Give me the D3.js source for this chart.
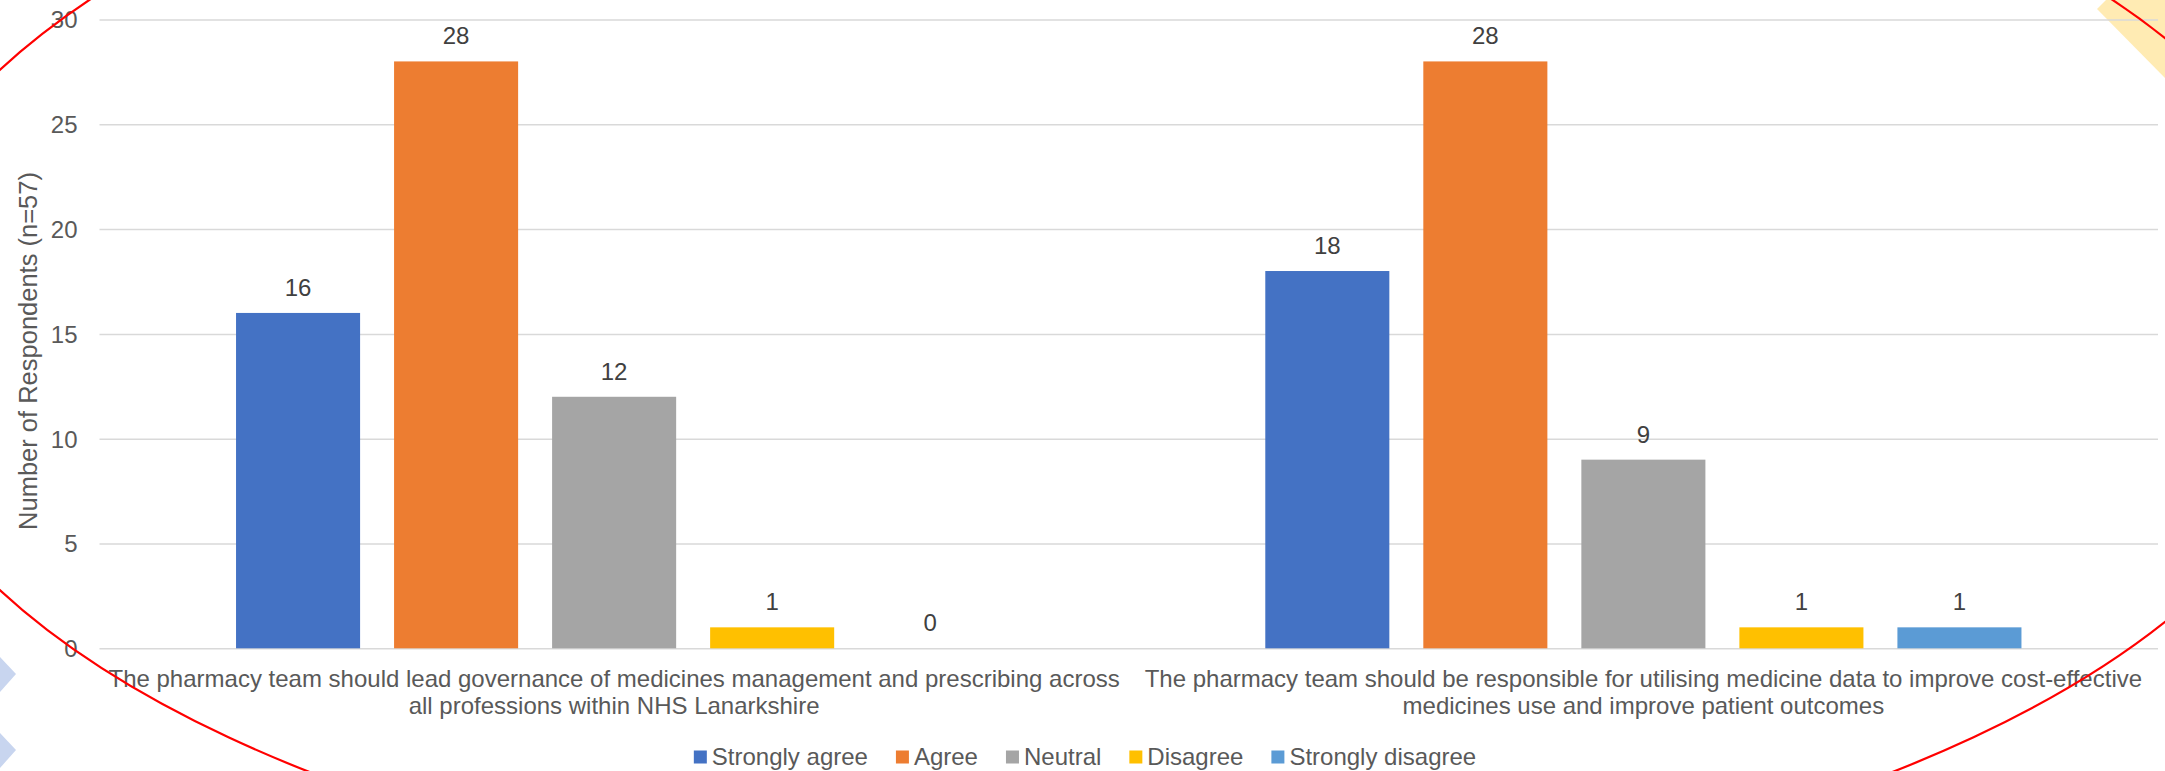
<!DOCTYPE html>
<html>
<head>
<meta charset="utf-8">
<script src="https://cdn.jsdelivr.net/npm/d3@7"></script>
<style>
  html, body { margin: 0; padding: 0; background: #fff; }
  svg { display: block; font-family: "Liberation Sans", Arial, sans-serif; }
</style>
</head>
<body>
<svg id="chart" width="2165" height="771"></svg>
<script>
// Survey statements (each split into its two printed lines)
const statements = [
  ["The pharmacy team should lead governance of medicines management and prescribing across",
   "all professions within NHS Lanarkshire"],
  ["The pharmacy team should be responsible for utilising medicine data to improve cost-effective",
   "medicines use and improve patient outcomes"]
];
const responses = ["Strongly agree", "Agree", "Neutral", "Disagree", "Strongly disagree"];
const colours = ["#4472C4", "#ED7D31", "#A5A5A5", "#FFC000", "#5B9BD5"];

// Respondent counts per statement, in response order
const governanceCounts = [16, 28, 12, 1, 0];
const medicineDataCounts = [18, 28, 9, 1, 1];

const yTicks = [0, 5, 10, 15, 20, 25, 30];
const yTitle = "Number of Respondents (n=57)";

const counts = [governanceCounts, medicineDataCounts];
const svg = d3.select("#chart");
const plot = { left: 99.5, right: 2158, top: 19.5, bottom: 648.3 };
const textCol = "#595959";

// Background decorations
svg.append("polygon")
  .attr("points", [[2106, 0], [2097, 9], [2165, 78], [2165, 0]].map(p => p.join(",")).join(" "))
  .attr("fill", "#FFEBB3");
[[657, 674, 692], [733, 750, 768]].forEach(([t, m, b]) => {
  svg.append("polygon")
    .attr("points", `0,${t} 16,${m} 0,${b}`)
    .attr("fill", "#C8D5EF");
});

const x0 = d3.scaleBand().domain(d3.range(statements.length)).range([plot.left, plot.right]).padding(0);
const x1 = d3.scaleBand().domain(responses).range([0, x0.bandwidth()])
  .paddingInner(0.215).paddingOuter(0.864);
const y = d3.scaleLinear().domain([0, 30]).range([plot.bottom, plot.top]);

// Gridlines + y tick labels
const yAxis = d3.axisLeft(y).tickValues(yTicks).tickSize(-(plot.right - plot.left)).tickPadding(22);
const gy = svg.append("g").attr("transform", `translate(${plot.left},0)`).call(yAxis);
gy.select(".domain").remove();
gy.selectAll(".tick line").attr("stroke", "#D9D9D9").attr("stroke-width", 1.5);
gy.selectAll(".tick text")
  .attr("fill", textCol).attr("font-size", 24)
  .attr("font-family", "'Liberation Sans', Arial, sans-serif")
  .attr("dy", "0.35em");

// Bars
const groups = svg.append("g").selectAll("g")
  .data(counts).join("g")
  .attr("transform", (d, i) => `translate(${x0(i)},0)`);

groups.selectAll("rect")
  .data(d => d.map((v, j) => ({ v, r: responses[j], c: colours[j] })))
  .join("rect")
  .attr("x", d => x1(d.r))
  .attr("width", x1.bandwidth())
  .attr("y", d => y(d.v))
  .attr("height", d => y(0) - y(d.v))
  .attr("fill", d => d.c);

groups.selectAll("text.val")
  .data(d => d.map((v, j) => ({ v, r: responses[j] })))
  .join("text")
  .attr("class", "val")
  .attr("x", d => x1(d.r) + x1.bandwidth() / 2)
  .attr("y", d => y(d.v) - 17)
  .attr("text-anchor", "middle")
  .attr("font-size", 24)
  .attr("fill", "#404040")
  .text(d => d.v);

// Category labels
statements.forEach((lines, i) => {
  const cx = x0(i) + x0.bandwidth() / 2;
  const t = svg.append("text")
    .attr("text-anchor", "middle")
    .attr("font-size", 24)
    .attr("fill", textCol);
  lines.forEach((ln, k) => {
    t.append("tspan").attr("x", cx).attr("y", 687 + k * 26.5).text(ln);
  });
});

// Y axis title
svg.append("text")
  .attr("transform", `translate(37,351) rotate(-90)`)
  .attr("text-anchor", "middle")
  .attr("font-size", 25.5)
  .attr("fill", textCol)
  .text(yTitle);

// Legend
const legend = svg.append("g");
let lx = 0;
responses.forEach((r, i) => {
  const g = legend.append("g").attr("transform", `translate(${lx},0)`);
  g.append("rect").attr("x", 0).attr("y", -6.5).attr("width", 13).attr("height", 13).attr("fill", colours[i]);
  const t = g.append("text").attr("x", 18).attr("y", 0).attr("dy", "0.35em")
    .attr("font-size", 24).attr("fill", textCol).text(r);
  lx += 18 + t.node().getComputedTextLength() + 28;
});
const legendW = lx - 28;
legend.attr("transform", `translate(${1085 - legendW / 2},757)`);

// Highlight ellipse
svg.append("ellipse")
  .attr("cx", 1101).attr("cy", 330).attr("rx", 1234).attr("ry", 576)
  .attr("fill", "none").attr("stroke", "#FF0000").attr("stroke-width", 2.2);
</script>
</body>
</html>
